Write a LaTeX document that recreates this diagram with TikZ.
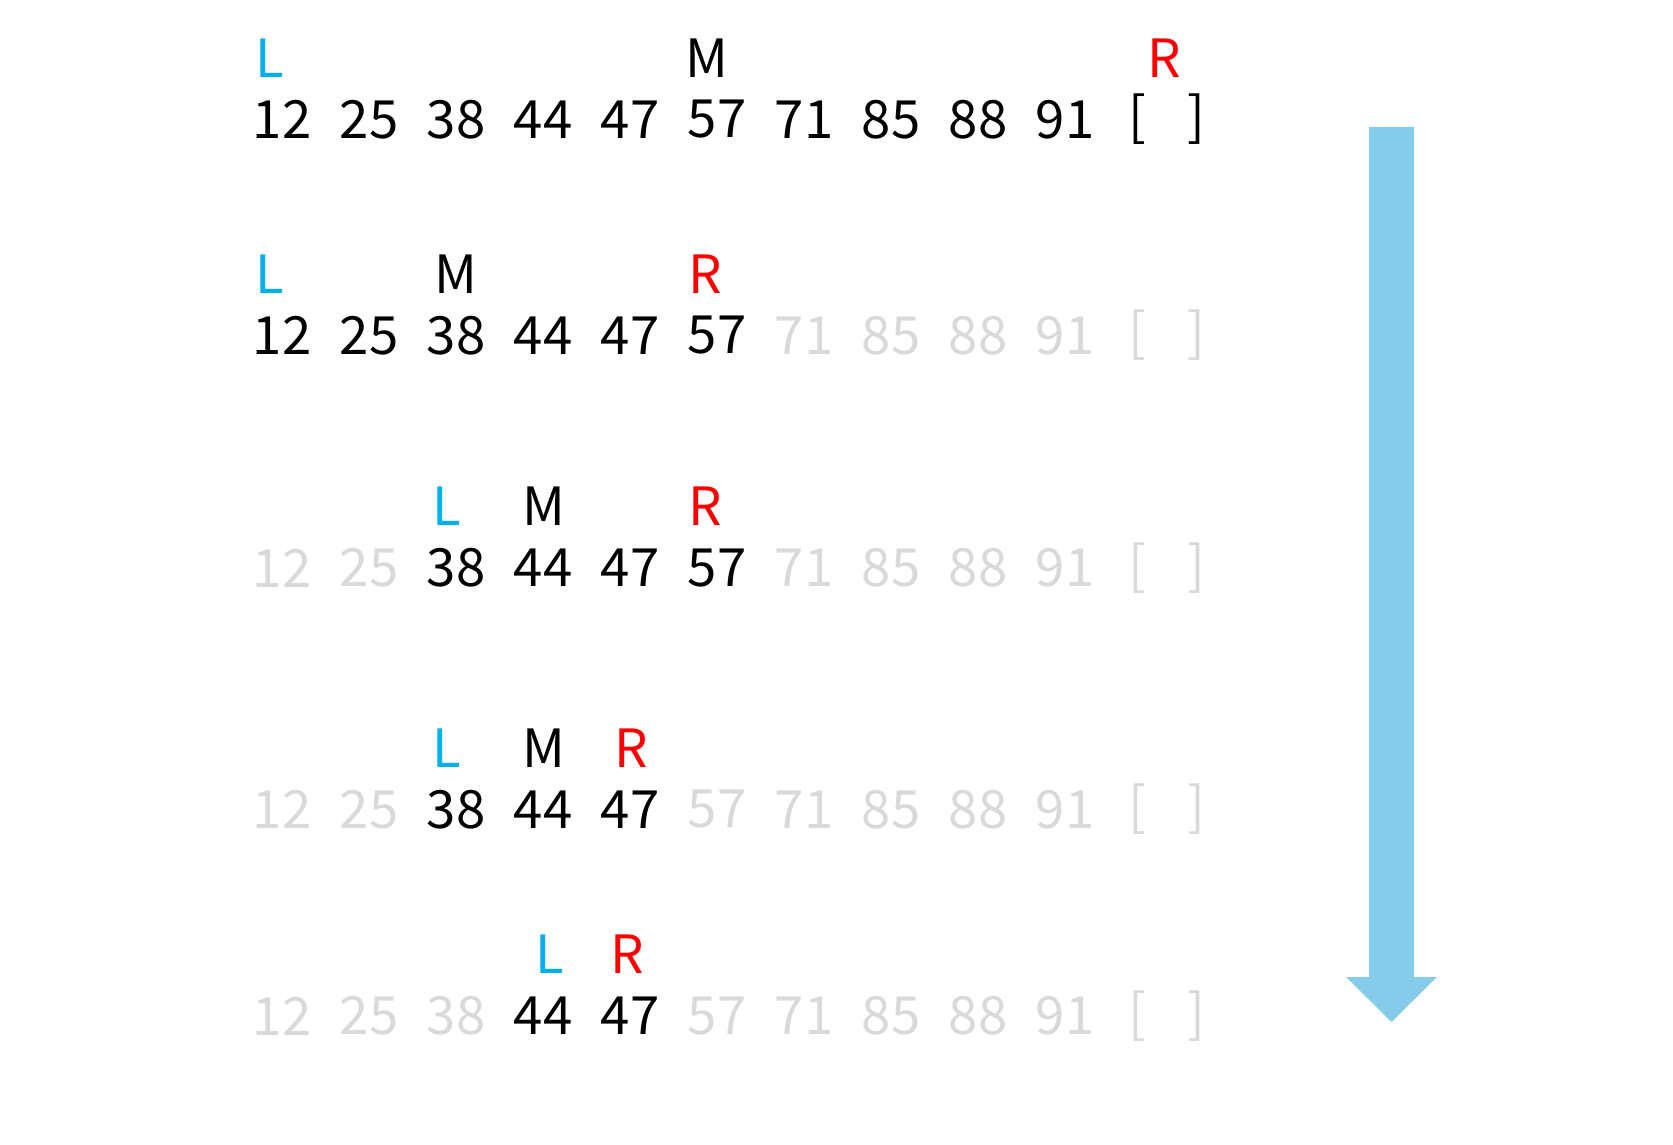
\documentclass[tikz,border=0pt]{standalone}
\usepackage{fontspec}
\setmainfont{Noto Sans CJK JP}
\usepackage{xcolor}
\definecolor{lblue}{RGB}{0,176,240}
\definecolor{rred}{RGB}{255,0,0}
\definecolor{lgray}{RGB}{217,217,217}
\definecolor{arrowblue}{RGB}{133,203,234}

\begin{document}
\begin{tikzpicture}[x=0.02cm,y=-0.02cm]
    \tikzstyle{num} = [inner sep=0pt, font=\fontsize{30}{36}\selectfont, text=black]
    \tikzstyle{off} = [num, text=lgray]
    \tikzstyle{lptr} = [num, text=lblue]
    \tikzstyle{mptr} = [num, text=black]
    \tikzstyle{rptr} = [num, text=rred]

    \useasboundingbox (0,0) rectangle (1673,1145);

    % Define rows: row / y / first active / last active
    \foreach \row/\y/\lo/\hi in {1/119.5/1/11, 2/335.5/1/6, 3/568/3/6,
                                 4/809.5/3/5, 5/1016/4/5} {
      \foreach \v [count=\i] in {12,25,38,44,47,57,71,85,88,91} {
        \ifnum\i<\lo \def\st{off}\else\ifnum\i>\hi \def\st{off}\else\def\st{num}\fi\fi
        \node[\st] (n\row-\i) at ({282+87*(\i-1)},\y) {\v};
      }
      \ifnum\hi>10 \def\st{num}\else\def\st{off}\fi
      \node[\st] (lb\row) at (1137,\y) {[};
      \node[\st] (rb\row) at (1196,\y) {]};
    }

    % Pointers
    \node[lptr] (L1) at (269.5,58) {L};
    \node[mptr] (M1) at (707,58) {M};
    \node[rptr] (R1) at (1164,58) {R};

    \node[lptr] (L2) at (269.8,274) {L};
    \node[mptr] (M2) at (455.5,274) {M};
    \node[rptr] (R2) at (705,274) {R};

    \node[lptr] (L3) at (447,506) {L};
    \node[mptr] (M3) at (544,506) {M};
    \node[rptr] (R3) at (705,506) {R};

    \node[lptr] (L4) at (447,748.3) {L};
    \node[mptr] (M4) at (544,748.3) {M};
    \node[rptr] (R4) at (631,748.3) {R};

    \node[lptr] (L5) at (550,954) {L};
    \node[rptr] (R5) at (627.5,954) {R};

    % Big arrow
    \fill[arrowblue] (1369,127) -- (1414,127) -- (1414,977) -- (1437,977)
      -- (1391.5,1022) -- (1346,977) -- (1369,977) -- cycle;

\end{tikzpicture}
\end{document}
